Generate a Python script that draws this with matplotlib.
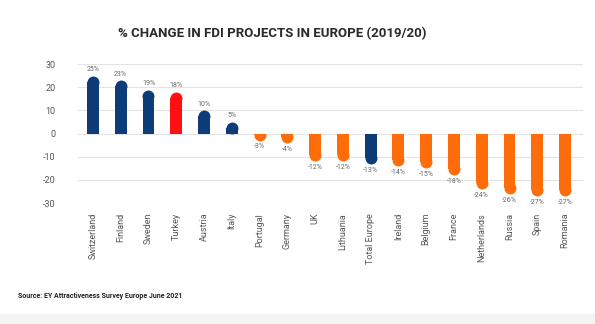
import matplotlib.pyplot as plt
import numpy as np

countries = ['Switzerland', 'Finland', 'Sweden', 'Turkey', 'Austria', 'Italy',
             'Portugal', 'Germany', 'UK', 'Lithuania', 'Total Europe', 'Ireland',
             'Belgium', 'France', 'Netherlands', 'Russia', 'Spain', 'Romania']
change = [25, 23, 19, 18, 10, 5, -3, -4, -12, -12, -13, -14, -15, -18, -24, -26, -27, -27]
yticks = [30, 20, 10, 0, -10, -20, -30]

NAVY = '#0d3c78'
RED = '#ff1010'
ORANGE = '#ff6d0a'

colors = []
for c, v in zip(countries, change):
    if c == 'Turkey':
        colors.append(RED)
    elif v > 0 or c == 'Total Europe':
        colors.append(NAVY)
    else:
        colors.append(ORANGE)

plt.rcParams['font.family'] = ['Roboto', 'DejaVu Sans']

fig = plt.figure(figsize=(5.95, 3.24), dpi=100)
ax = fig.add_axes([0.131, 0.373, 0.849, 0.429])

x = np.arange(len(countries))
width = 0.43
ax.set_xlim(-0.54, 17.65)
ax.set_ylim(-30, 30)

# pixel scale to get round bar ends
fig.canvas.draw()
p0 = ax.transData.transform((0, 0))
p1 = ax.transData.transform((width, 10))
w_px = p1[0] - p0[0]
r_data = (w_px / 2) / ((p1[1] - p0[1]) / 10)
ms = w_px * 72 / fig.dpi

for xi, v, col in zip(x, change, colors):
    s = np.sign(v)
    end = v - s * r_data
    if abs(v) > r_data:
        ax.bar(xi, end, width=width, color=col, zorder=3, linewidth=0)
    dot, = ax.plot(xi, end, 'o', ms=ms, color=col, mew=0, zorder=3)
    clip = plt.Rectangle((xi - width, min(0, v)), 2 * width, abs(v), transform=ax.transData)
    dot.set_clip_path(clip)
    if v > 0:
        ax.text(xi, v + 1.2, f'{v}%', ha='center', va='bottom', fontsize=5, color='#666666')
    else:
        ax.text(xi, v - 1.2, f'{v}%', ha='center', va='top', fontsize=5, color='#666666')

ax.set_yticks(yticks)
ax.set_yticklabels([str(t) for t in yticks])
ax.set_xticks(x)
ax.set_xticklabels(countries, rotation=90)
ax.tick_params(axis='y', length=0, pad=16, labelsize=6.5, labelcolor='#555555')
ax.tick_params(axis='x', length=0, pad=7, labelsize=6.5, labelcolor='#555555')

ax.grid(axis='y', color='#e4e4e4', linewidth=0.8, zorder=0)
for s in ax.spines.values():
    s.set_visible(False)

fig.text(0.457, 0.897, '% CHANGE IN FDI PROJECTS IN EUROPE (2019/20)', ha='center', va='center',
         fontsize=9.5, fontweight='bold', color='#2a2a2a')
fig.text(0.03, 0.087, 'Source: EY Attractiveness Survey Europe June 2021', ha='left', va='center',
         fontsize=5, fontweight='bold', color='#222222')

fig.patches.append(plt.Rectangle((0, 0), 1, 0.03, transform=fig.transFigure,
                                 color='#f4f4f4', zorder=0))

fig.savefig('out.png', dpi=100)
